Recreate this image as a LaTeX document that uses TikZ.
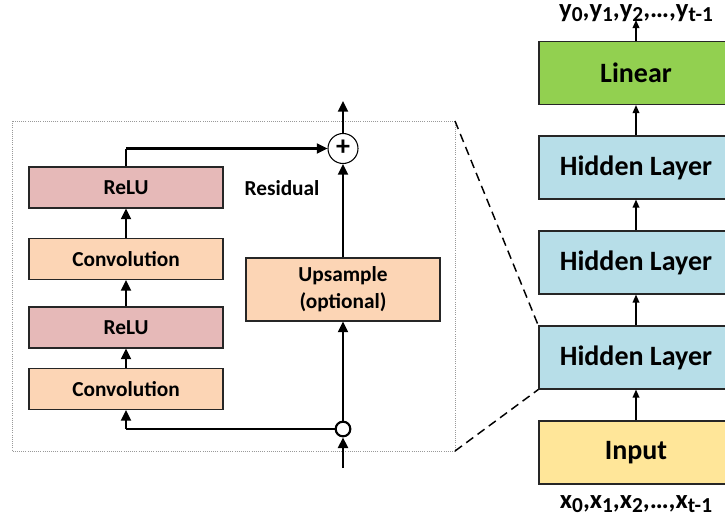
\documentclass[tikz,border=0pt]{standalone}
\usepackage{fontspec}
\setmainfont{Carlito}
\usetikzlibrary{arrows.meta,shapes.geometric}

\definecolor{relufill}{HTML}{E6B9B8}
\definecolor{convfill}{HTML}{FCD5B5}
\definecolor{hidfill}{HTML}{B7DEE8}
\definecolor{linfill}{HTML}{92D050}
\definecolor{inpfill}{HTML}{FFE699}
\definecolor{edge}{HTML}{262626}

\newcommand{\seqsub}[1]{{\fontsize{16}{16}\selectfont\raisebox{-0.4ex}{#1}}}
\newcommand{\seqlabel}[1]{%
  #1\seqsub{0},#1\seqsub{1},#1\seqsub{2},…,#1\seqsub{t-1}}

\tikzset{
  px/.style={x=0.75pt,y=-0.75pt},
  blockL/.style={draw=edge,line width=1.1pt,minimum width=145.5pt,minimum height=30.5pt,
    inner sep=0pt,font=\fontsize{16}{18}\selectfont\bfseries},
  blockR/.style={draw=edge,line width=1.1pt,minimum width=145.5pt,minimum height=47pt,
    inner sep=0pt,font=\fontsize{21}{24}\selectfont\bfseries},
  thickarrow/.style={line width=1.6pt,-{Triangle[length=8pt,width=7.5pt]}},
  thickline/.style={line width=1.6pt},
  thinarrow/.style={line width=1pt,-{Triangle[length=6pt,width=5pt]}},
  zoomline/.style={dash pattern=on 6.5pt off 4pt,line width=1.1pt},
}

\begin{document}
\begin{tikzpicture}[px]
\useasboundingbox (0,0) rectangle (725,522);
\clip (0,0) rectangle (725,522);

% ---- residual block (detail view) ----
\draw[gray!80,densely dotted,line width=0.6pt] (12,121) rectangle (455,451);

\node[blockL,fill=relufill] (relu2) at (126,187.5) {ReLU};
\node[blockL,fill=convfill] (conv2) at (126,259) {Convolution};
\node[blockL,fill=relufill] (relu1) at (126,327.5) {ReLU};
\node[blockL,fill=convfill] (conv1) at (126,389) {Convolution};

\node[draw=edge,line width=1.1pt,fill=convfill,minimum width=145.5pt,minimum height=47pt,
      inner sep=0pt,align=center,font=\fontsize{16}{20}\selectfont\bfseries]
      (ups) at (343,289.5) {Upsample\\(optional)};

\node[font=\fontsize{16}{18}\selectfont\bfseries] (reslabel) at (282,188) {Residual};

\node[circle,draw=black,line width=0.8pt,fill=white,minimum size=22.5pt,inner sep=0pt,
      font=\fontsize{21}{21}\selectfont\bfseries] (plus) at (343,148.5) {\raisebox{0.1ex}{+}};
\node[circle,draw=black,line width=1.6pt,fill=white,minimum size=11pt,inner sep=0pt] (split) at (343,429) {};

\coordinate (inlow) at (343,468);
\coordinate (outtop) at (343,101);
\coordinate (splitcorner) at (126,429);
\coordinate (skipcorner) at (126,148.5);

\draw[thickarrow] (inlow) -- (split);
\draw[thickline] (split) -- (splitcorner);
\draw[thickarrow] (splitcorner) -- (conv1);
\draw[thickarrow] (conv1) -- (relu1);
\draw[thickarrow] (relu1) -- (conv2);
\draw[thickarrow] (conv2) -- (relu2);
\draw[thickline] (relu2) -- (skipcorner);
\draw[thickarrow] (skipcorner) -- (plus);
\draw[thickarrow] (split) -- (ups);
\draw[thickarrow] (ups) -- (plus);
\draw[thickarrow] (plus) -- (outtop);

% ---- network stack ----
\node[blockR,fill=linfill] (lin) at (636,73) {Linear};
\node[blockR,fill=hidfill] (hid1) at (636,167.5) {Hidden Layer};
\node[blockR,fill=hidfill] (hid2) at (636,262.5) {Hidden Layer};
\node[blockR,fill=hidfill] (hid3) at (636,357.5) {Hidden Layer};
\node[blockR,fill=inpfill] (inp) at (636,452.5) {Input};

\node[font=\fontsize{20}{22}\selectfont\bfseries,anchor=base] (ylab) at (636,17) {\seqlabel{y}};
\node[font=\fontsize{20}{22}\selectfont\bfseries,anchor=base] (xlab) at (636,508) {\seqlabel{x}};
\coordinate (ytip) at (636,20);

\draw[thinarrow] (inp) -- (hid3);
\draw[thinarrow] (hid3) -- (hid2);
\draw[thinarrow] (hid2) -- (hid1);
\draw[thinarrow] (hid1) -- (lin);
\draw[thinarrow] (lin) -- (ytip);

% ---- zoom lines ----
\draw[zoomline] (455,121) -- (hid3.north west);
\draw[zoomline] (455,451) -- (hid3.south west);
\end{tikzpicture}
\end{document}
